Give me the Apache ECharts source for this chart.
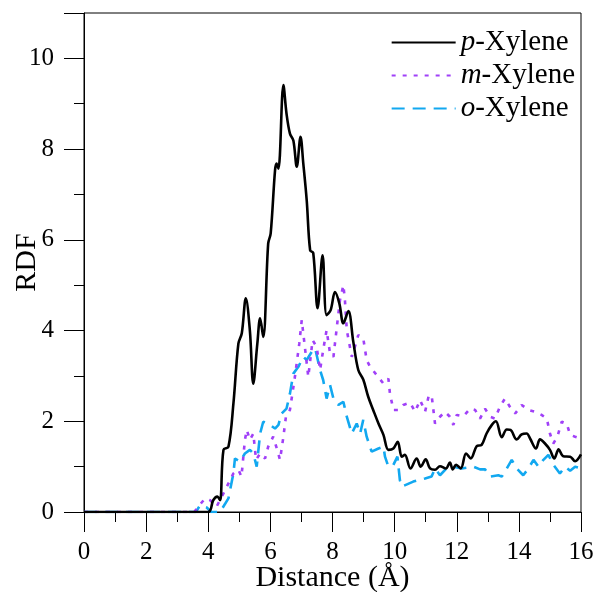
<!DOCTYPE html>
<html>
<head>
<meta charset="utf-8">
<script src="https://cdn.jsdelivr.net/npm/echarts@6/dist/echarts.min.js"></script>
<style>
  html, body { margin: 0; padding: 0; background: #fff; }
  #chart { width: 594px; height: 592px; }
</style>
</head>
<body>
<div id="chart"></div>
<script>
// RDF curves, [distance (Å), g(r)]
var pXylene = [
  [0, 0], [3.99, 0], [4.16, 0.26], [4.29, 0.34], [4.38, 0.26], [4.49, 1.37], [4.65, 1.44],
  [4.81, 2.39], [4.97, 3.71], [5.08, 3.94], [5.21, 4.71], [5.34, 4.0], [5.45, 2.83],
  [5.58, 3.71], [5.67, 4.27], [5.77, 3.86], [5.93, 5.92], [6.01, 6.14], [6.15, 7.53],
  [6.20, 7.68], [6.26, 7.57], [6.42, 9.41], [6.52, 8.78], [6.63, 8.34], [6.74, 8.19],
  [6.85, 7.61], [6.97, 8.27], [7.06, 7.68], [7.17, 6.87], [7.28, 5.77], [7.38, 5.71],
  [7.52, 4.49], [7.68, 5.66], [7.81, 4.34], [7.94, 4.45], [8.08, 4.85], [8.22, 4.60],
  [8.35, 4.16], [8.51, 4.43], [8.67, 3.75], [8.83, 3.13], [8.99, 2.92], [9.15, 2.54],
  [9.31, 2.25], [9.48, 1.95], [9.64, 1.70], [9.80, 1.37], [9.96, 1.40], [10.10, 1.55],
  [10.23, 1.22], [10.33, 1.26], [10.51, 0.96], [10.71, 1.18], [10.84, 1.0], [11.00, 1.16],
  [11.14, 0.96], [11.30, 0.93], [11.46, 1.01], [11.65, 0.96], [11.78, 1.09], [11.87, 0.94],
  [11.98, 1.04], [12.13, 0.96], [12.30, 1.29], [12.45, 1.18], [12.64, 1.45], [12.80, 1.48],
  [12.96, 1.73], [13.13, 1.92], [13.26, 2.0], [13.45, 1.65], [13.61, 1.82], [13.73, 1.81],
  [13.93, 1.60], [14.09, 1.71], [14.25, 1.73], [14.36, 1.62], [14.55, 1.40], [14.68, 1.60],
  [14.84, 1.51], [15.0, 1.37], [15.14, 1.18], [15.28, 1.38], [15.43, 1.23], [15.65, 1.22],
  [15.81, 1.12], [16.0, 1.27]
];

var mXylene = [
  [0, 0], [3.55, 0], [3.68, 0.12], [3.90, 0.30], [4.06, 0.26], [4.27, 0.12], [4.49, 0.41],
  [4.65, 0.63], [4.81, 0.85], [4.97, 0.93], [5.07, 0.78], [5.18, 1.59], [5.24, 1.81],
  [5.34, 1.59], [5.45, 1.73], [5.54, 1.15], [5.67, 1.29], [5.83, 1.18], [5.93, 1.44],
  [6.09, 1.66], [6.22, 1.37], [6.31, 1.15], [6.42, 1.66], [6.50, 2.10], [6.63, 2.25],
  [6.79, 2.98], [6.93, 3.71], [7.01, 4.23], [7.11, 3.64], [7.22, 2.98], [7.36, 3.79],
  [7.49, 3.64], [7.60, 3.13], [7.70, 3.57], [7.81, 4.01], [7.92, 3.50], [8.03, 3.42],
  [8.14, 4.08], [8.24, 4.67], [8.35, 5.0], [8.40, 4.67], [8.46, 4.01], [8.62, 3.42],
  [8.72, 3.64], [8.83, 3.90], [8.99, 3.83], [9.10, 3.35], [9.21, 3.20], [9.42, 3.02],
  [9.64, 2.83], [9.80, 2.94], [9.85, 2.61], [9.96, 2.25], [10.12, 2.25], [10.28, 2.36],
  [10.50, 2.41], [10.66, 2.21], [10.82, 2.47], [10.98, 2.21], [11.09, 2.54], [11.19, 2.58],
  [11.30, 1.95], [11.46, 2.10], [11.62, 2.21], [11.78, 2.10], [11.89, 1.92], [12.0, 2.14],
  [12.21, 2.11], [12.43, 2.28], [12.59, 2.25], [12.75, 2.06], [12.91, 2.28], [13.07, 2.10],
  [13.23, 2.06], [13.39, 2.32], [13.55, 2.50], [13.71, 2.32], [13.88, 2.17], [14.09, 2.36],
  [14.31, 2.25], [14.52, 2.21], [14.73, 2.14], [14.90, 2.06], [15.0, 1.73], [15.11, 1.51],
  [15.24, 1.66], [15.38, 1.99], [15.54, 1.95], [15.65, 1.70], [15.81, 1.66], [16.0, 1.62]
];

var oXylene = [
  [0, 0], [3.60, 0], [3.74, 0.15], [3.95, 0.10], [4.10, 0], [4.38, 0], [4.65, 0.30],
  [4.81, 0.85], [4.86, 1.18], [5.02, 1.11], [5.18, 1.29], [5.34, 1.37], [5.45, 1.29],
  [5.56, 1.0], [5.67, 1.73], [5.77, 1.99], [5.93, 1.95], [6.15, 1.84], [6.26, 1.92],
  [6.36, 2.17], [6.52, 2.28], [6.63, 2.61], [6.74, 3.05], [6.90, 3.20], [7.06, 3.42],
  [7.17, 3.35], [7.33, 3.53], [7.44, 3.61], [7.60, 3.13], [7.70, 2.91], [7.81, 2.50],
  [7.92, 2.80], [8.03, 2.50], [8.19, 2.36], [8.35, 2.43], [8.46, 2.10], [8.62, 1.73],
  [8.78, 1.95], [8.89, 1.73], [8.99, 2.03], [9.10, 1.66], [9.26, 1.33], [9.48, 1.40],
  [9.64, 1.44], [9.69, 1.22], [9.80, 1.0], [9.96, 1.04], [10.09, 1.22], [10.17, 0.70],
  [10.23, 0.56], [10.60, 0.67], [10.98, 0.74], [11.19, 0.78], [11.30, 0.96], [11.46, 0.81],
  [11.67, 0.96], [11.89, 1.0], [12.16, 0.96], [12.53, 1.0], [12.75, 0.94], [12.91, 0.94],
  [13.07, 0.78], [13.34, 0.81], [13.45, 0.78], [13.61, 0.96], [13.77, 1.15], [13.93, 0.96],
  [14.14, 0.81], [14.31, 0.96], [14.47, 1.15], [14.63, 1.0], [14.79, 1.15], [14.95, 1.26],
  [15.11, 1.04], [15.32, 0.85], [15.49, 1.0], [15.65, 0.91], [15.81, 1.0], [16.0, 0.96]
];

var seriesNames = ['p-Xylene', 'm-Xylene', 'o-Xylene'];
var seriesColors = ['#000000', '#a040f8', '#12a8f0'];

var font = 'Liberation Serif, Times New Roman, serif';
var chart = echarts.init(document.getElementById('chart'), null, { renderer: 'canvas' });

var option = {
  animation: false,
  backgroundColor: '#fff',
  grid: {
    left: 84, right: 13, top: 13, bottom: 80,
    outerBoundsMode: 'none',
    containLabel: false,
    show: true, borderColor: '#000', borderWidth: 1
  },
  legend: {
    orient: 'vertical',
    right: 14,
    top: 23,
    itemWidth: 64,
    itemHeight: 14,
    itemGap: 4,
    itemTextGap: 7,
    data: seriesNames,
    itemStyle: { color: 'transparent', borderColor: 'transparent', borderWidth: 0 },
    formatter: function (name) {
      var parts = name.split('-');
      return '{i|' + parts[0] + '}-' + parts[1];
    },
    textStyle: {
      fontFamily: font, fontSize: 29, color: '#000',
      rich: { i: { fontFamily: font, fontSize: 29, fontStyle: 'italic', color: '#000' } }
    }
  },
  xAxis: {
    type: 'value',
    min: 0, max: 16, interval: 2,
    name: 'Distance (Å)',
    nameLocation: 'middle',
    nameGap: 51,
    nameMoveOverlap: false,
    nameTextStyle: { fontFamily: font, fontSize: 30, color: '#000' },
    axisLine: { onZero: false, lineStyle: { color: '#000', width: 1 } },
    axisTick: { inside: false, length: 20, lineStyle: { color: '#000' } },
    minorTick: { show: true, splitNumber: 2, length: 10, lineStyle: { color: '#000' } },
    axisLabel: { margin: 28, fontFamily: font, fontSize: 25, color: '#000' },
    splitLine: { show: false }
  },
  yAxis: {
    type: 'value',
    min: 0, max: 11, interval: 2,
    name: 'RDF',
    nameLocation: 'middle',
    nameGap: 42,
    nameMoveOverlap: false,
    nameRotate: 90,
    nameTextStyle: { fontFamily: font, fontSize: 30, color: '#000' },
    axisLine: { onZero: false, lineStyle: { color: '#000', width: 1 } },
    axisTick: { inside: false, length: 20, lineStyle: { color: '#000' } },
    minorTick: { show: true, splitNumber: 2, length: 10, lineStyle: { color: '#000' } },
    axisLabel: {
      margin: 30, fontFamily: font, fontSize: 25, color: '#000',
      formatter: function (v) { return v > 10 ? '' : v; }
    },
    splitLine: { show: false }
  },
  series: [
    {
      name: seriesNames[0], type: 'line', data: pXylene, z: 4,
      showSymbol: false, symbol: 'none', smooth: 0.35,
      lineStyle: { color: seriesColors[0], width: 2.6, type: 'solid' },
      itemStyle: { color: seriesColors[0] }
    },
    {
      name: seriesNames[1], type: 'line', data: mXylene, z: 3,
      showSymbol: false, symbol: 'none',
      lineStyle: { color: seriesColors[1], width: 2.6, type: [4, 7] },
      itemStyle: { color: seriesColors[1] }
    },
    {
      name: seriesNames[2], type: 'line', data: oXylene, z: 2,
      showSymbol: false, symbol: 'none',
      lineStyle: { color: seriesColors[2], width: 2.6, type: [13, 8] },
      itemStyle: { color: seriesColors[2] }
    }
  ]
};

chart.setOption(option);
</script>
</body>
</html>
